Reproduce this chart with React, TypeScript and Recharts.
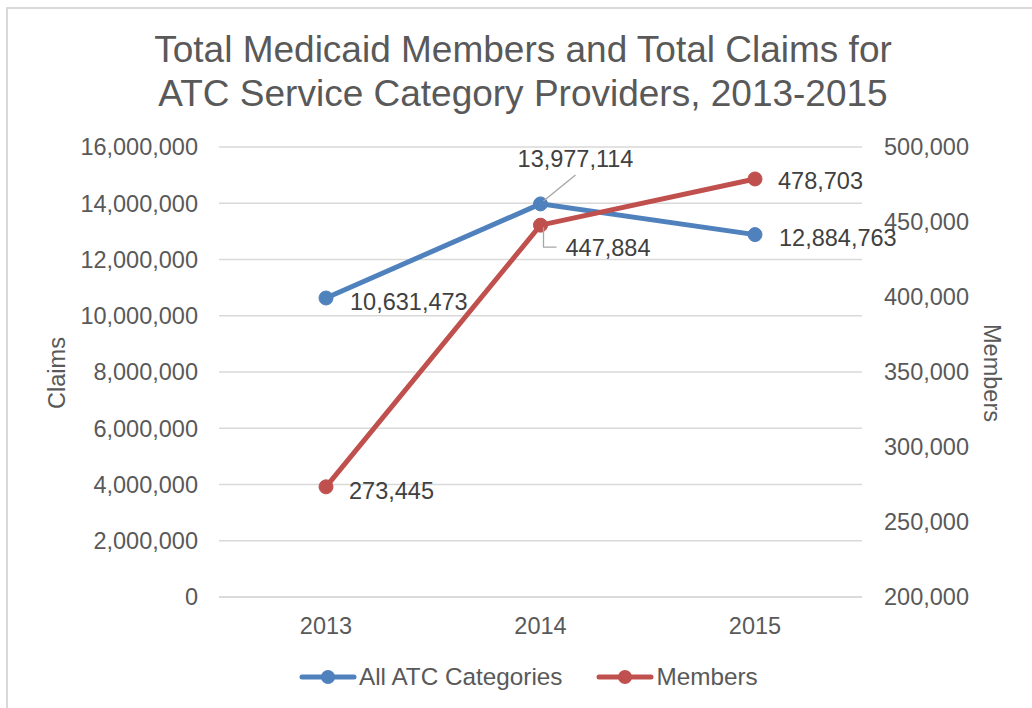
import React from "react";
import {
  LineChart,
  Line,
  XAxis,
  YAxis,
  CartesianGrid,
  LabelList,
} from "recharts";

const years = ["2013", "2014", "2015"];
const claims = [10631473, 13977114, 12884763];
const members = [273445, 447884, 478703];
const claimTicks = [0, 2000000, 4000000, 6000000, 8000000, 10000000, 12000000, 14000000, 16000000];
const memberTicks = [200000, 250000, 300000, 350000, 400000, 450000, 500000];

const data = years.map((year, i) => ({ year, claims: claims[i], members: members[i] }));

const FONT = '"Liberation Sans", Arial, sans-serif';
const BLUE = "#4f81bd";
const RED = "#c0504d";
const GRID = "#d9d9d9";
const fmt = (v: number) => v.toLocaleString("en-US");

// label placement relative to each point (Excel-style manual positions)
const blueLabelPos = [
  { dx: 24, dy: 4, anchor: "start", leader: null },
  { dx: 35, dy: -45, anchor: "middle", leader: [[3, -3], [35, -29]] },
  { dx: 24, dy: 3, anchor: "start", leader: null },
];
const redLabelPos = [
  { dx: 23, dy: 4, anchor: "start", leader: null },
  { dx: 25, dy: 23, anchor: "start", leader: [[3, 2], [3, 22], [16, 22]] },
  { dx: 23, dy: 2, anchor: "start", leader: null },
];

const makeLabel = (pos: any[]) => (props: any) => {
  const vb = props.viewBox || {};
  const x = vb.x ?? props.x;
  const y = vb.y ?? props.y;
  const p = pos[props.index];
  if (x == null || y == null || !p) return null;
  return (
    <g>
      {p.leader && (
        <polyline
          points={p.leader.map(([lx, ly]: number[]) => `${x + lx},${y + ly}`).join(" ")}
          fill="none"
          stroke="#a6a6a6"
          strokeWidth={1.3}
        />
      )}
      <text
        x={x + p.dx}
        y={y + p.dy}
        textAnchor={p.anchor}
        dominantBaseline="central"
        fill="#404040"
        fontSize={23.5}
        fontFamily={FONT}
      >
        {fmt(props.value)}
      </text>
    </g>
  );
};

const axisTitle = (text: string, cx: number, angle: number) => () => (
  <text
    x={cx}
    y={373}
    transform={`rotate(${angle}, ${cx}, 373)`}
    textAnchor="middle"
    dominantBaseline="central"
    fill="#595959"
    fontSize={23.5}
    fontFamily={FONT}
  >
    {text}
  </text>
);

const tickStyle = { fill: "#595959", fontSize: 23.5, fontFamily: FONT };

const LegendIcon = ({ color }: { color: string }) => (
  <svg width={58} height={30} style={{ display: "block" }}>
    <line x1={3} y1={15} x2={55} y2={15} stroke={color} strokeWidth={5} strokeLinecap="round" />
    <circle cx={29} cy={15} r={7} fill={color} />
  </svg>
);

const App = () => {
  return (
    <div style={{ position: "absolute", left: 0, top: 0, width: 1032, height: 708, background: "#fff", fontFamily: FONT }}>
      <div
        style={{
          position: "absolute",
          left: 6,
          top: 7,
          width: 1026,
          height: 701,
          boxSizing: "border-box",
          borderLeft: `2px solid ${GRID}`,
          borderTop: `2px solid ${GRID}`,
        }}
      />
      <div
        style={{
          position: "absolute",
          left: 14,
          top: 28,
          width: 1018,
          textAlign: "center",
          fontSize: 37,
          lineHeight: "44px",
          color: "#595959",
        }}
      >
        Total Medicaid Members and Total Claims for
        <br />
        ATC Service Category Providers, 2013-2015
      </div>
      <div style={{ position: "absolute", left: 0, top: 0 }}>
        <LineChart width={1032} height={708} data={data} margin={{ top: 147, right: 20, bottom: 81, left: 19 }}>
          <CartesianGrid yAxisId="left" vertical={false} stroke={GRID} strokeWidth={1.3} />
          <XAxis
            dataKey="year"
            padding={{ left: 107, right: 107 }}
            axisLine={{ stroke: GRID, strokeWidth: 1.3 }}
            tickLine={false}
            tickSize={0}
            tickMargin={20}
            tick={tickStyle}
          />
          <YAxis
            yAxisId="left"
            domain={[0, 16000000]}
            ticks={claimTicks}
            tickFormatter={fmt}
            axisLine={false}
            tickLine={false}
            tickSize={0}
            tickMargin={21}
            width={200}
            tick={tickStyle}
            label={{ content: axisTitle("Claims", 57, -90) }}
          />
          <YAxis
            yAxisId="right"
            orientation="right"
            domain={[200000, 500000]}
            ticks={memberTicks}
            tickFormatter={fmt}
            axisLine={false}
            tickLine={false}
            tickSize={0}
            tickMargin={22}
            width={150}
            tick={tickStyle}
            label={{ content: axisTitle("Members", 992, 90) }}
          />
          <Line
            yAxisId="left"
            dataKey="claims"
            stroke={BLUE}
            strokeWidth={5}
            dot={{ r: 7, fill: BLUE, stroke: BLUE, strokeWidth: 1 }}
            isAnimationActive={false}
          >
            <LabelList dataKey="claims" content={makeLabel(blueLabelPos)} />
          </Line>
          <Line
            yAxisId="right"
            dataKey="members"
            stroke={RED}
            strokeWidth={5}
            dot={{ r: 7, fill: RED, stroke: RED, strokeWidth: 1 }}
            isAnimationActive={false}
          >
            <LabelList dataKey="members" content={makeLabel(redLabelPos)} />
          </Line>
        </LineChart>
      </div>
      <div
        style={{
          position: "absolute",
          left: 299,
          top: 662,
          display: "flex",
          alignItems: "center",
          fontSize: 24.3,
          color: "#595959",
          lineHeight: "30px",
        }}
      >
        <LegendIcon color={BLUE} />
        <span style={{ marginLeft: 2 }}>All ATC Categories</span>
        <span style={{ width: 34 }} />
        <LegendIcon color={RED} />
        <span style={{ marginLeft: 2 }}>Members</span>
      </div>
    </div>
  );
};

export default App;
